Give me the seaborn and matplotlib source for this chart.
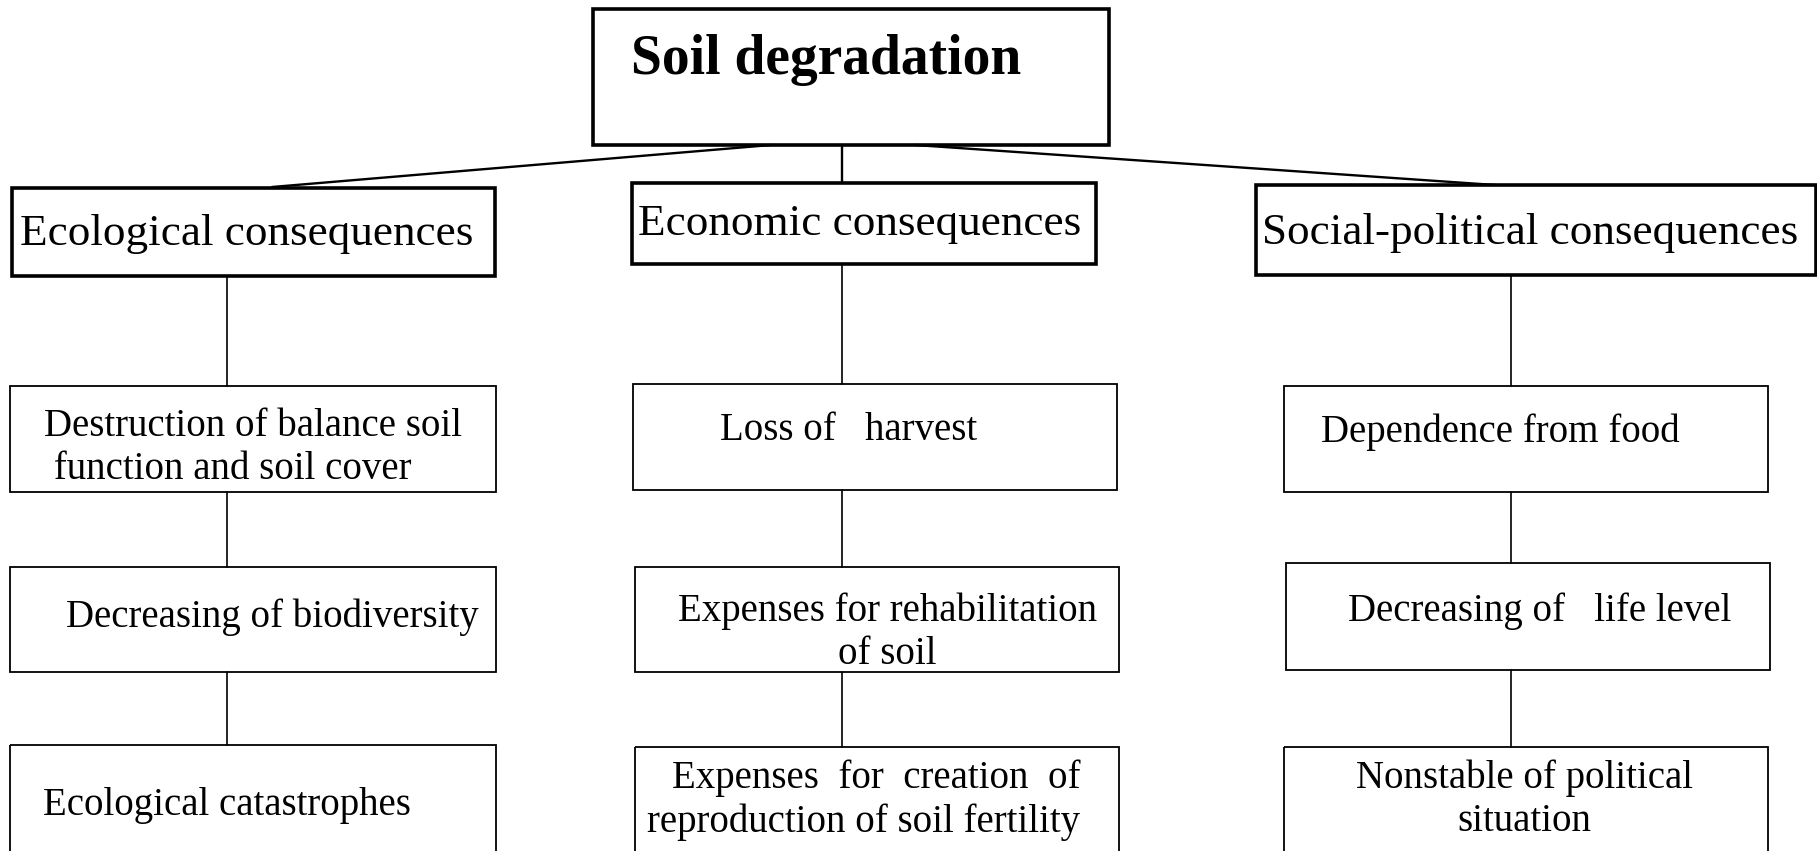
import matplotlib
matplotlib.use("Agg")
import matplotlib.pyplot as plt
from matplotlib.patches import Rectangle
import seaborn as sns
import pandas as pd

# Box texts (lines separated by \n)
root_label = "Soil degradation"
branch_labels = ["Ecological consequences", "Economic consequences", "Social-political consequences"]
ecological_items = ["Destruction of balance soil\n function and soil cover",
                    "Decreasing of biodiversity",
                    "Ecological catastrophes"]
economic_items = ["Loss of   harvest",
                  "Expenses for rehabilitation\nof soil",
                  "Expenses  for  creation  of\nreproduction of soil fertility"]
social_items = ["Dependence from food",
                "Decreasing of   life level",
                "Nonstable of political\nsituation"]

# Layout in pixel units (x0, y0, x1, y1)
root_box = (593, 9, 1109, 145)
branch_boxes = [(12, 188, 495, 276), (632, 183, 1096, 264), (1256, 185, 1816, 275)]
item_boxes = [
    [(10, 386, 496, 492), (10, 567, 496, 672), (10, 745, 496, 870)],
    [(633, 384, 1117, 490), (635, 567, 1119, 672), (635, 747, 1119, 870)],
    [(1284, 386, 1768, 492), (1286, 563, 1770, 670), (1284, 747, 1768, 870)],
]
root_text = (631, 60)
branch_text = [(20, 234), (638, 224), (1262, 233)]
item_text = [
    [(44, 448), (66, 617), (43, 806)],
    [(720, 431), (678, 633), (647, 800)],
    [(1321, 432), (1348, 611), (1356, 800)],
]
item_align = [
    ["left", "left", "left"],
    ["left", "center", "right"],
    ["left", "left", "center"],
]
col_x = [227, 842, 1511]

sns.set_theme(style="white")
plt.rcParams["font.family"] = ["Liberation Serif", "DejaVu Serif"]
plt.rcParams["text.color"] = "black"

fig = plt.figure(figsize=(18.17, 8.51), dpi=100)
ax = fig.add_axes([0, 0, 1, 1])


def box(b, lw):
    x0, y0, x1, y1 = b
    ax.add_patch(Rectangle((x0, y0), x1 - x0, y1 - y0, fill=False, ec="black", lw=lw, zorder=3))


# connector segments: root -> branches (heavier), then vertical chains
top_segs = [[(771, 145), (272, 187)], [(842, 145), (842, 183)], [(915, 145), (1495, 185)]]
chain_segs = []
for c, boxes in enumerate(item_boxes):
    top = branch_boxes[c][3]
    for b in boxes:
        chain_segs.append([(col_x[c], top), (col_x[c], b[1])])
        top = b[3]


def seg_frame(segs):
    rows = []
    for i, s in enumerate(segs):
        for (x, y) in s:
            rows.append({"seg": i, "x": x, "y": y})
    return pd.DataFrame(rows)


sns.lineplot(data=seg_frame(top_segs), x="x", y="y", units="seg", estimator=None,
             color="black", lw=1.7, sort=False, ax=ax, legend=False)
sns.lineplot(data=seg_frame(chain_segs), x="x", y="y", units="seg", estimator=None,
             color="black", lw=1.2, sort=False, ax=ax, legend=False)
ax.set_xlim(0, 1817)
ax.set_ylim(851, 0)
ax.axis("off")

box(root_box, 2.6)
ax.text(*root_text, root_label, fontsize=40, fontweight="bold", va="center", ha="left")

for b, t, lab in zip(branch_boxes, branch_text, branch_labels):
    box(b, 2.6)
    ax.text(*t, lab, fontsize=32.5, va="center", ha="left")

all_items = [ecological_items, economic_items, social_items]
for c in range(3):
    for b, t, lab, al in zip(item_boxes[c], item_text[c], all_items[c], item_align[c]):
        box(b, 1.3)
        ax.text(*t, lab, fontsize=28, va="center", ha="left", multialignment=al,
                linespacing=1.22)

fig.savefig("out.png", dpi=100, facecolor="white")
